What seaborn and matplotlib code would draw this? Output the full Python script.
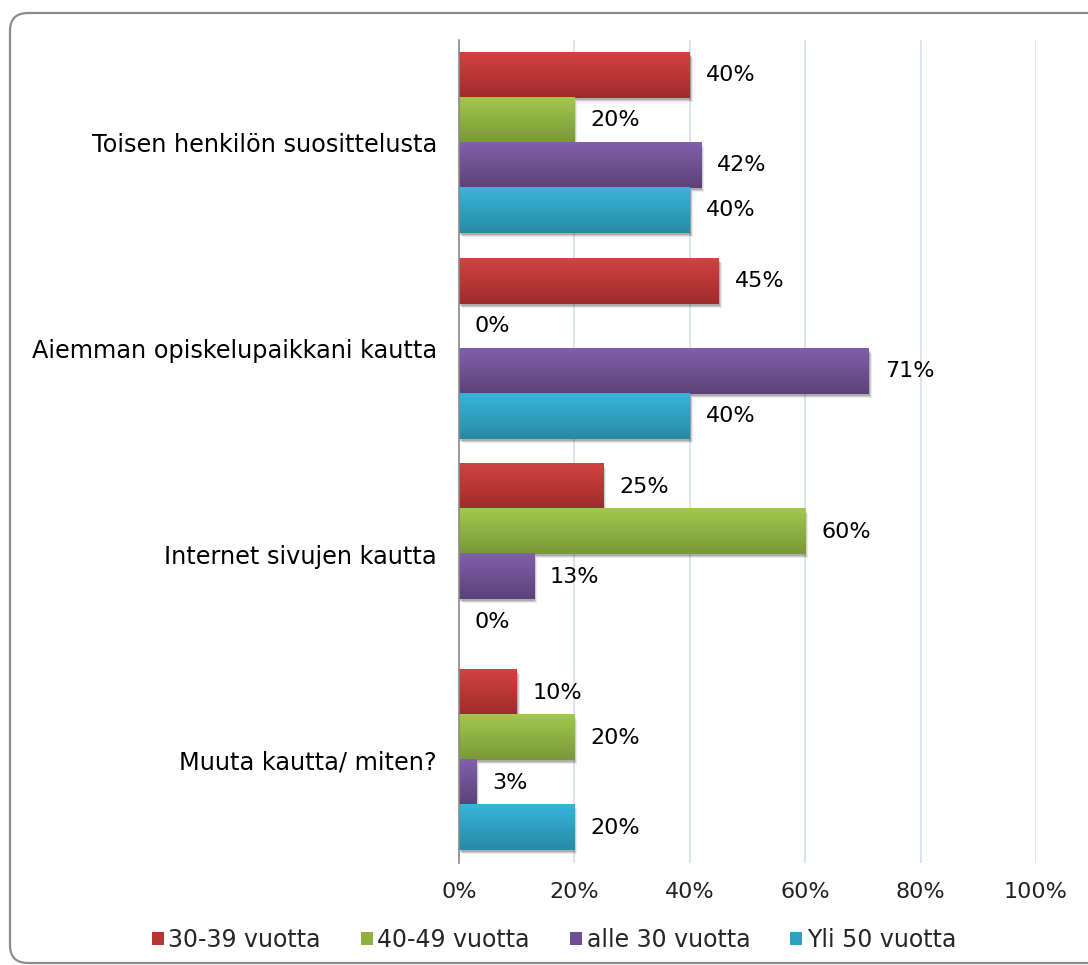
import numpy as np
import pandas as pd
import seaborn as sns
import matplotlib
matplotlib.use("Agg")
import matplotlib.pyplot as plt
from matplotlib.patches import Rectangle, FancyBboxPatch
from matplotlib.transforms import IdentityTransform, ScaledTranslation
from matplotlib.colors import LinearSegmentedColormap

# ---- data -------------------------------------------------------------
categories = [
    "Toisen henkilön suosittelusta",
    "Aiemman opiskelupaikkani kautta",
    "Internet sivujen kautta",
    "Muuta kautta/ miten?",
]
groups = ["30-39 vuotta", "40-49 vuotta", "alle 30 vuotta", "Yli 50 vuotta"]
vals_30_39 = [40, 45, 25, 10]
vals_40_49 = [20, 0, 60, 20]
vals_alle_30 = [42, 71, 13, 3]
vals_yli_50 = [40, 40, 0, 20]
x_ticks = [0, 20, 40, 60, 80, 100]
x_tick_labels = ["0%", "20%", "40%", "60%", "80%", "100%"]

# ---- styling ------------------------------------------------------------
mid_colors = ["#B93636", "#8DB040", "#6E4F92", "#30A0C0"]
grad_top = ["#D24242", "#A2C84C", "#8060AA", "#37B6DA"]
grad_bot = ["#9E2C2C", "#7A9837", "#5C4278", "#2889A4"]

sns.set_theme(style="white")
plt.rcParams["font.family"] = ["DejaVu Sans"]

DPI = 100
fig = plt.figure(figsize=(10.88, 9.65), dpi=DPI)
ax = fig.add_axes([459 / 1088, 1 - 863 / 965, (1036 - 459) / 1088, (863 - 40) / 965])

series = [vals_30_39, vals_40_49, vals_alle_30, vals_yli_50]
df = pd.DataFrame(
    [(c, g, v) for g, vals in zip(groups, series) for c, v in zip(categories, vals)],
    columns=["category", "group", "value"],
)

sns.barplot(
    data=df, x="value", y="category", hue="group",
    order=categories, hue_order=groups, palette=mid_colors,
    width=0.875, gap=0, saturation=1, orient="h", legend=False,
    linewidth=0, ax=ax, zorder=3,
)

ax.set_xlim(0, 100)
ax.set_ylim(3.5, -0.5)

# vertical gradient fill and soft drop shadow for every bar
for ci, container in enumerate(ax.containers):
    cmap = LinearSegmentedColormap.from_list(f"g{ci}", [grad_top[ci], grad_bot[ci]])
    grad = np.linspace(0, 1, 64).reshape(-1, 1)
    for bar in container:
        x0, y0 = bar.get_x(), bar.get_y()
        w, h = bar.get_width(), bar.get_height()
        if w <= 0:
            continue
        for dx, dy, a in [(3, -4, 0.08), (2, -3, 0.12), (1, -2, 0.16)]:
            sh = Rectangle((x0, y0), w, h, facecolor="black", alpha=a, lw=0,
                           zorder=2,
                           transform=ax.transData + ScaledTranslation(dx / DPI, dy / DPI, fig.dpi_scale_trans))
            ax.add_patch(sh)
        ax.imshow(grad, cmap=cmap, aspect="auto", extent=(x0, x0 + w, y0 + h, y0),
                  origin="upper", zorder=4, interpolation="bilinear")

ax.set_xlim(0, 100)
ax.set_ylim(3.5, -0.5)

# value labels taken from each bar's own length
for container in ax.containers:
    for bar in container:
        w = bar.get_width()
        yc = bar.get_y() + bar.get_height() / 2
        ax.annotate(f"{int(round(w))}%", xy=(w, yc), xytext=(11.5, 0),
                    textcoords="offset points", va="center", ha="left",
                    fontsize=16, color="black", zorder=6)

# axes cosmetics
ax.set_xticks(x_ticks)
ax.set_xticklabels(x_tick_labels, fontsize=16, color="#222222")
ax.set_yticklabels(categories, fontsize=17.3, color="black")
ax.tick_params(axis="x", length=0, pad=14)
ax.tick_params(axis="y", length=0, pad=16)
ax.set_xlabel("")
ax.set_ylabel("")
ax.xaxis.grid(True, color="#D6E0EC", lw=1.2, zorder=0)
ax.yaxis.grid(False)
ax.set_axisbelow(True)
for s in ["top", "right", "bottom"]:
    ax.spines[s].set_visible(False)
ax.spines["left"].set_color("#8A8A8A")
ax.spines["left"].set_linewidth(1.2)
ax.spines["left"].set_zorder(7)

# legend
handles = [Rectangle((0, 0), 1, 1, facecolor=c, lw=0) for c in mid_colors]
fig.legend(handles, groups, loc="center", bbox_to_anchor=(554 / 1088, 1 - 940 / 965),
           ncol=4, frameon=False, fontsize=17, handlelength=0.5, handleheight=0.5,
           handletextpad=0.2, columnspacing=1.7, borderaxespad=0)

# rounded outer frame
frame = FancyBboxPatch((10, 2), 1110, 950, boxstyle="round,pad=0,rounding_size=18",
                       transform=IdentityTransform(), facecolor="none",
                       edgecolor="#8C8C8C", lw=1.6, zorder=10)
fig.patches.append(frame)

fig.savefig("out.png", dpi=DPI, facecolor="white")
